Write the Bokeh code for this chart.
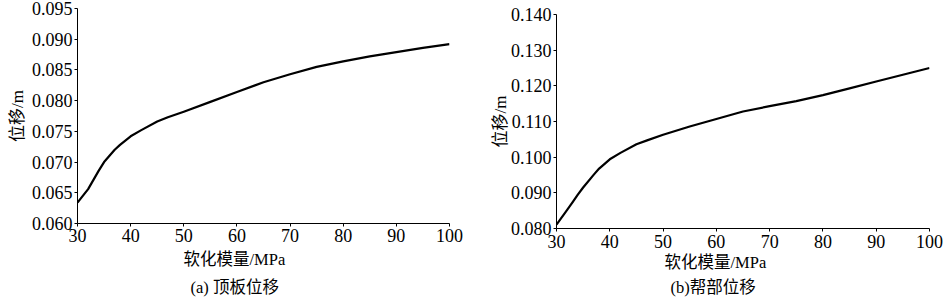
from bokeh.plotting import figure
from bokeh.layouts import row, column
from bokeh.models import Range1d, FixedTicker, PrintfTickFormatter, Title
from bokeh.embed import file_html
from bokeh.resources import INLINE

# ---- data ----
modulus = [30, 32, 33, 34, 35, 37, 38, 40, 42, 45, 47, 50, 55, 60, 65, 70, 75, 80, 85, 90, 95, 100]
roof_disp = [0.0634, 0.0656, 0.0671, 0.0686, 0.0700, 0.0720, 0.0728, 0.0742, 0.0752, 0.0766,
             0.0773, 0.0782, 0.0798, 0.0814, 0.0830, 0.0843, 0.0855, 0.0864, 0.0872, 0.0879,
             0.0886, 0.0892]
wall_disp = [0.0811, 0.0852, 0.0873, 0.0895, 0.0915, 0.0951, 0.0968, 0.0994, 0.1012, 0.1036,
             0.1047, 0.1063, 0.1086, 0.1107, 0.1128, 0.1143, 0.1157, 0.1174, 0.1193, 0.1212,
             0.1231, 0.1250]
x_ticks = [30, 40, 50, 60, 70, 80, 90, 100]
roof_ticks = [0.060, 0.065, 0.070, 0.075, 0.080, 0.085, 0.090, 0.095]
wall_ticks = [0.080, 0.090, 0.100, 0.110, 0.120, 0.130, 0.140]
x_label = "软化模量/MPa"
y_label = "位移/m"
captions = ["(a) 顶板位移", "(b)帮部位移"]

FONT = "Liberation Serif, Noto Sans CJK SC"


def make_panel(y, yr, yticks, caption, mb_left, mb_right, mb_top, mb_bottom,
               tick_standoff, ylab_standoff, t1_standoff, t2_standoff, off1, off2):
    p = figure(width=472, height=300, output_backend="svg", toolbar_location=None,
               x_range=Range1d(30, 100), y_range=Range1d(*yr),
               min_border_left=mb_left, min_border_right=mb_right,
               min_border_top=mb_top, min_border_bottom=mb_bottom)
    p.title_location = None
    p.outline_line_color = None
    p.xgrid.visible = False
    p.ygrid.visible = False
    p.line(modulus, y, line_color="black", line_width=2.2, line_join="round")

    for ax in (p.xaxis[0], p.yaxis[0]):
        ax.axis_line_color = "black"
        ax.major_tick_line_color = "black"
        ax.minor_tick_line_color = None
        ax.major_tick_out = 3
        ax.major_tick_in = 0
        ax.major_label_text_font = FONT
        ax.major_label_text_font_size = "18px"
        ax.major_label_text_color = "black"
        ax.axis_label_text_font = FONT
        ax.axis_label_text_font_size = "17px"
        ax.axis_label_text_font_style = "normal"
        ax.axis_label_text_color = "black"

    p.xaxis.ticker = FixedTicker(ticks=x_ticks)
    p.xaxis.major_label_standoff = tick_standoff
    p.yaxis.ticker = FixedTicker(ticks=yticks)
    p.yaxis.formatter = PrintfTickFormatter(format="%.3f")
    p.yaxis.major_label_standoff = 2
    p.yaxis.axis_label = y_label
    p.yaxis.axis_label_standoff = ylab_standoff

    t1 = Title(text=x_label, align="left", offset=off1, standoff=t1_standoff,
               text_font=FONT, text_font_size="16.5px", text_font_style="normal",
               text_color="black")
    t2 = Title(text=caption, align="left", offset=off2, standoff=t2_standoff,
               text_font=FONT, text_font_size="16.5px", text_font_style="normal",
               text_color="black")
    p.add_layout(t1, "below")
    p.add_layout(t2, "below")
    return p


p1 = make_panel(roof_disp, (0.060, 0.095), roof_ticks, captions[0],
                77, 23, 8, 77, 2, 2, 6, 8, 106, 113)
p2 = make_panel(wall_disp, (0.080, 0.140), wall_ticks, captions[1],
                84, 15, 14, 72, 3, -2, 0, 8, 108, 114)

layout = row(column(p1), column(p2))

open("out.html", "w").write(file_html(layout, INLINE))
